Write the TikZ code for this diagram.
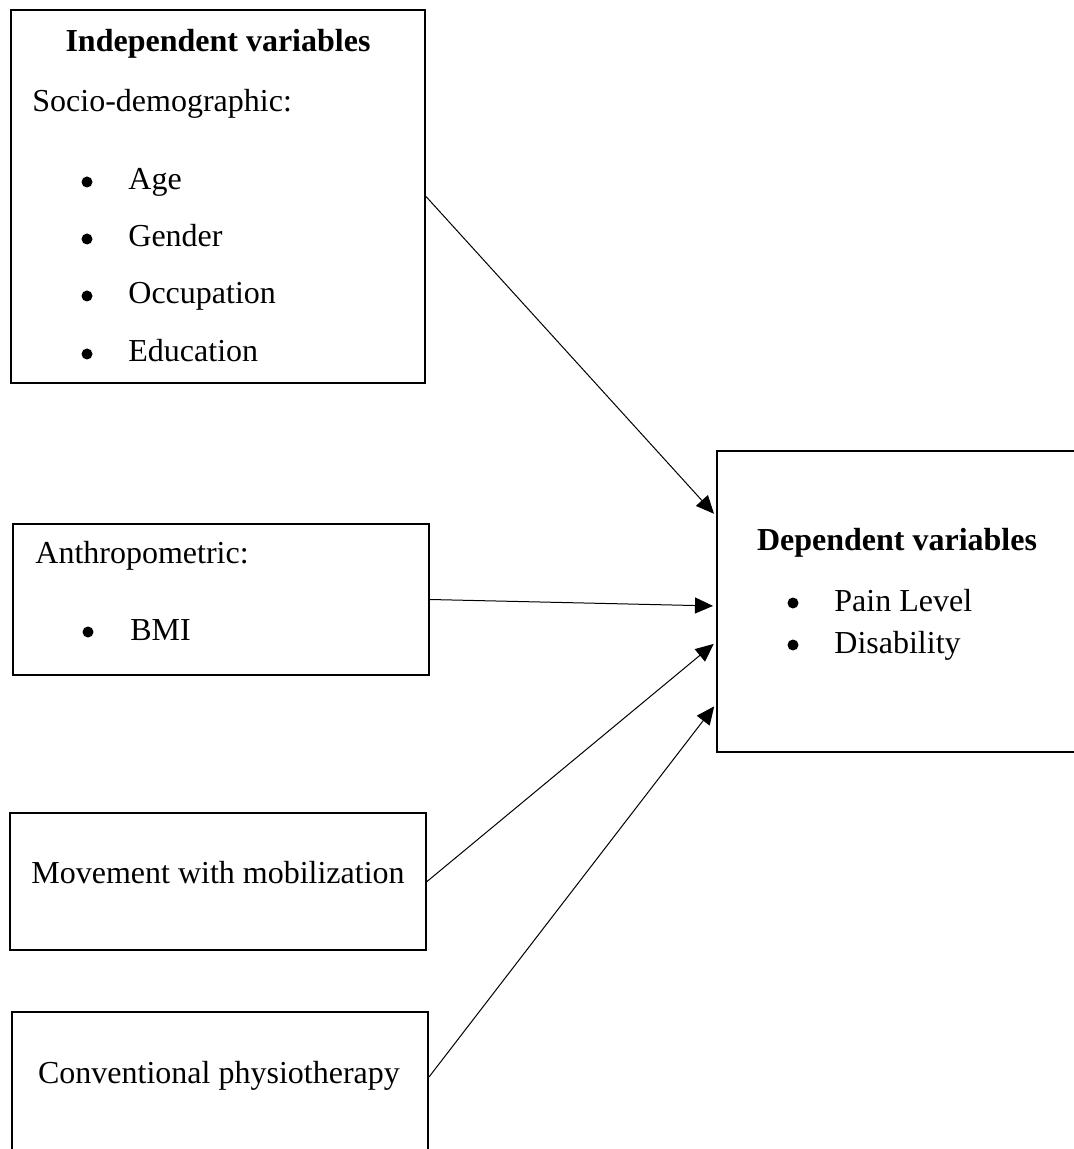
\documentclass[tikz,border=0pt]{standalone}
\usepackage{fontspec}
\setmainfont{Liberation Serif}
\usetikzlibrary{arrows.meta,calc}

\tikzset{
  varbox/.style={draw, line width=1pt, inner sep=0pt},
  txt/.style={inner sep=0pt, anchor=base west},
  ctxt/.style={inner sep=0pt, anchor=base},
  dot/.style={circle, fill, inner sep=0pt, minimum size=5.5pt},
  link/.style={-{Triangle[length=9pt,width=8pt]}, line width=0.5pt, shorten >=1.5pt}
}

\begin{document}
\begin{tikzpicture}[x=0.5pt,y=-0.5pt,font=\fontsize{16}{19}\selectfont]
  \useasboundingbox (0,0) rectangle (1074,1149);
  % boxes
  \node[varbox, minimum width=207pt, minimum height=186.5pt] (indep) at (218,196.5) {};
  \node[varbox, minimum width=208pt, minimum height=75.5pt] (anthro) at (221,599.5) {};
  \node[varbox, minimum width=208pt, minimum height=68.5pt] (mobil) at (218,881.5) {};
  \node[varbox, minimum width=208pt, minimum height=72pt] (physio) at (220,1084) {};
  \node[varbox, minimum width=181.5pt, minimum height=150.5pt] (dep) at (898.5,601.5) {};

  % independent variables
  \node[ctxt, font=\fontsize{16}{19}\selectfont\bfseries] (indeptitle) at (218,52) {Independent variables};
  \node[txt] (socio) at (32,112) {Socio-demographic:};
  \foreach \t/\y in {Age/190, Gender/247, Occupation/304, Education/362}{
    \node[dot] (sdot\y) at (87,\y-8) {};
    \node[txt] (sitem\y) at (128,\y) {\t};}
  \node[txt] (anthrotitle) at (35,563) {Anthropometric:};
  \node[dot] (bmidot) at (88,632) {};
  \node[txt] (bmi) at (130,640) {BMI};
  \node[ctxt] (mobiltext) at (218,883) {Movement with mobilization};
  \node[ctxt] (physiotext) at (219,1083) {Conventional physiotherapy};

  % dependent variables
  \node[ctxt, font=\fontsize{16}{19}\selectfont\bfseries] (deptitle) at (897,550) {Dependent variables};
  \foreach \t/\y in {Pain Level/611, Disability/653}{
    \node[dot] (ddot\y) at (793,\y-8) {};
    \node[txt] (ditem\y) at (834,\y) {\t};}

  % links
  \draw[link] (indep.east) -- ($(dep.north west)+(0,66)$);
  \draw[link] (anthro.east) -- ($(dep.north west)+(0,156)$);
  \draw[link] (mobil.east) -- ($(dep.north west)+(0,192)$);
  \draw[link] ($(physio.north east)+(0,66)$) -- ($(dep.north west)+(0,254)$);
\end{tikzpicture}
\end{document}
